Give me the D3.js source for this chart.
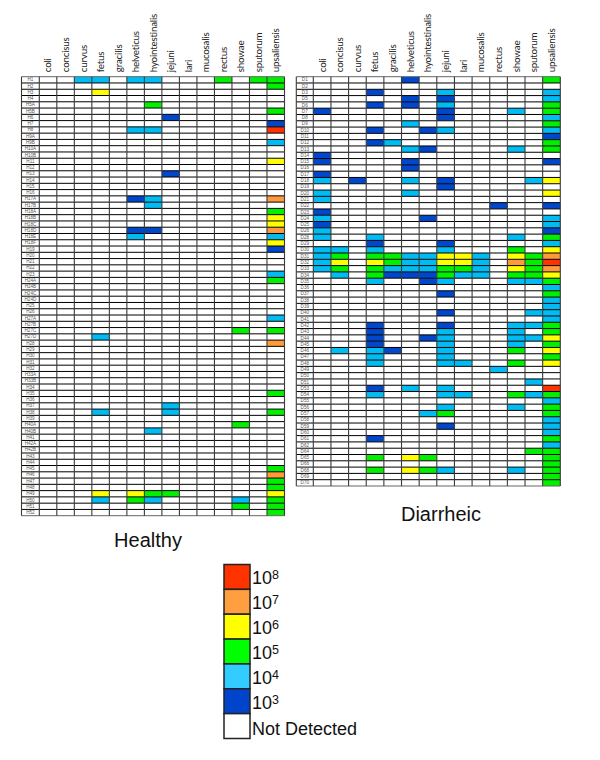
<!DOCTYPE html>
<html>
<head>
<meta charset="utf-8">
<script src="https://cdn.jsdelivr.net/npm/d3@7"></script>
<style>
  html, body { margin: 0; padding: 0; background: #fff; }
  svg { display: block; }
  .species text { font-family: Lato, sans-serif; font-size: 9.8px; letter-spacing: -0.22px; fill: #222; }
  .ids text { font-family: "Liberation Sans", sans-serif; font-size: 4.6px; fill: #555; }
  .title, .legend text { font-family: "Liberation Sans", sans-serif; fill: #111; }
</style>
</head>
<body>
<svg id="chart" width="600" height="760"></svg>
<script>
const species = ["coli", "concisus", "curvus", "fetus", "gracilis", "helveticus", "hyointestinalis",
  "jejuni", "lari", "mucosalis", "rectus", "showae", "sputorum", "upsaliensis"];

const healthyIds = ["H1", "H2", "H3", "H4", "H5A", "H5B", "H6", "H7", "H8", "H9A", "H9B", "H10A", "H10B", "H11",
  "H12", "H13", "H14", "H15", "H16", "H17A", "H17B", "H18A", "H18B", "H18C", "H18D", "H18E", "H18F", "H19",
  "H20", "H21", "H22", "H23", "H24A", "H24B", "H24C", "H24D", "H25", "H26", "H27A", "H27B", "H27C", "H27D",
  "H28", "H29", "H30", "H31", "H32", "H33A", "H33B", "H34", "H35", "H36", "H37", "H38", "H39", "H40A", "H40B",
  "H41", "H42A", "H42B", "H43", "H44", "H45", "H46", "H47", "H48", "H49", "H50", "H51", "H52"];

const diarrheicIds = ["D1", "D2", "D3", "D5", "D6", "D7", "D8", "D9", "D10", "D11", "D12", "D13", "D14", "D15",
  "D16", "D17", "D18", "D19", "D20", "D21", "D22", "D23", "D24", "D25", "D26", "D28", "D29", "D30", "D31", "D32",
  "D33", "D34", "D35", "D36", "D37", "D38", "D39", "D40", "D41", "D42", "D43", "D44", "D45", "D46", "D47", "D48",
  "D49", "D50", "D51", "D53", "D54", "D55", "D56", "D57", "D58", "D59", "D60", "D61", "D62", "D64", "D65", "D66",
  "D68", "D69", "D70"];

// detections: sample -> [species, log10 copies]
const healthyHits = [
  ["H1", "curvus", 4], ["H1", "fetus", 4], ["H1", "helveticus", 4], ["H1", "hyointestinalis", 4],
  ["H1", "rectus", 5], ["H1", "sputorum", 5], ["H1", "upsaliensis", 5],
  ["H2", "upsaliensis", 5], ["H3", "fetus", 6], ["H5A", "hyointestinalis", 5], ["H5B", "upsaliensis", 5],
  ["H6", "jejuni", 3], ["H7", "upsaliensis", 3],
  ["H8", "helveticus", 4], ["H8", "hyointestinalis", 4], ["H8", "upsaliensis", 8],
  ["H9B", "upsaliensis", 4], ["H11", "upsaliensis", 6], ["H13", "jejuni", 3],
  ["H17A", "helveticus", 3], ["H17A", "hyointestinalis", 4], ["H17A", "upsaliensis", 7],
  ["H17B", "hyointestinalis", 4], ["H18A", "upsaliensis", 5], ["H18B", "upsaliensis", 6], ["H18C", "upsaliensis", 6],
  ["H18D", "helveticus", 3], ["H18D", "hyointestinalis", 3], ["H18D", "upsaliensis", 7],
  ["H18E", "helveticus", 4], ["H18E", "upsaliensis", 4], ["H18F", "upsaliensis", 6], ["H19", "upsaliensis", 3],
  ["H23", "upsaliensis", 4], ["H24A", "upsaliensis", 5], ["H27A", "upsaliensis", 4],
  ["H27C", "showae", 5], ["H27C", "upsaliensis", 5], ["H27D", "fetus", 4], ["H28", "upsaliensis", 7],
  ["H35", "upsaliensis", 5], ["H37", "jejuni", 4], ["H38", "fetus", 4], ["H38", "jejuni", 4], ["H38", "upsaliensis", 5],
  ["H40A", "showae", 5], ["H40B", "hyointestinalis", 4],
  ["H45", "upsaliensis", 5], ["H46", "upsaliensis", 7], ["H47", "upsaliensis", 5], ["H48", "upsaliensis", 5],
  ["H49", "fetus", 6], ["H49", "helveticus", 6], ["H49", "hyointestinalis", 5], ["H49", "jejuni", 5], ["H49", "upsaliensis", 6],
  ["H50", "fetus", 4], ["H50", "helveticus", 5], ["H50", "hyointestinalis", 4], ["H50", "showae", 4], ["H50", "upsaliensis", 5],
  ["H51", "showae", 5], ["H51", "upsaliensis", 5], ["H52", "upsaliensis", 5]
];

const diarrheicHits = [
  ["D1", "helveticus", 3], ["D1", "upsaliensis", 5],
  ["D3", "fetus", 3], ["D3", "jejuni", 4], ["D3", "upsaliensis", 4],
  ["D5", "helveticus", 3], ["D5", "jejuni", 3], ["D5", "upsaliensis", 4],
  ["D6", "fetus", 3], ["D6", "helveticus", 3], ["D6", "jejuni", 4], ["D6", "upsaliensis", 5],
  ["D7", "coli", 3], ["D7", "jejuni", 3], ["D7", "showae", 4], ["D7", "upsaliensis", 5],
  ["D8", "jejuni", 3], ["D8", "upsaliensis", 4], ["D9", "helveticus", 4], ["D9", "upsaliensis", 5],
  ["D10", "fetus", 3], ["D10", "hyointestinalis", 3], ["D10", "jejuni", 4], ["D10", "upsaliensis", 4],
  ["D11", "upsaliensis", 3], ["D12", "fetus", 3], ["D12", "gracilis", 4], ["D12", "upsaliensis", 5],
  ["D13", "helveticus", 4], ["D13", "hyointestinalis", 3], ["D13", "showae", 4], ["D13", "upsaliensis", 5],
  ["D14", "coli", 3], ["D15", "coli", 3], ["D15", "helveticus", 3], ["D15", "upsaliensis", 3],
  ["D16", "helveticus", 3], ["D17", "coli", 3],
  ["D18", "coli", 4], ["D18", "curvus", 3], ["D18", "helveticus", 4], ["D18", "jejuni", 3], ["D18", "sputorum", 4], ["D18", "upsaliensis", 6],
  ["D19", "jejuni", 3], ["D20", "coli", 4], ["D20", "helveticus", 4], ["D20", "upsaliensis", 6],
  ["D21", "coli", 4], ["D22", "rectus", 3], ["D22", "upsaliensis", 3], ["D23", "coli", 3],
  ["D24", "coli", 4], ["D24", "hyointestinalis", 3], ["D24", "upsaliensis", 4],
  ["D25", "coli", 3], ["D25", "upsaliensis", 4], ["D26", "coli", 4], ["D26", "upsaliensis", 3],
  ["D28", "coli", 4], ["D28", "fetus", 4], ["D28", "showae", 4], ["D28", "upsaliensis", 5],
  ["D29", "fetus", 3], ["D29", "jejuni", 3], ["D29", "upsaliensis", 4],
  ["D30", "coli", 4], ["D30", "concisus", 4], ["D30", "fetus", 4], ["D30", "jejuni", 4], ["D30", "showae", 5], ["D30", "upsaliensis", 6],
  ["D31", "coli", 4], ["D31", "concisus", 5], ["D31", "fetus", 5], ["D31", "gracilis", 5], ["D31", "helveticus", 4], ["D31", "hyointestinalis", 4],
  ["D31", "jejuni", 6], ["D31", "lari", 6], ["D31", "mucosalis", 4], ["D31", "showae", 6], ["D31", "sputorum", 5], ["D31", "upsaliensis", 7],
  ["D32", "coli", 4], ["D32", "concisus", 6], ["D32", "fetus", 6], ["D32", "gracilis", 5], ["D32", "helveticus", 4], ["D32", "hyointestinalis", 4],
  ["D32", "jejuni", 6], ["D32", "lari", 6], ["D32", "mucosalis", 4], ["D32", "showae", 7], ["D32", "sputorum", 5], ["D32", "upsaliensis", 8],
  ["D33", "coli", 4], ["D33", "concisus", 5], ["D33", "fetus", 5], ["D33", "gracilis", 4], ["D33", "helveticus", 4], ["D33", "hyointestinalis", 4],
  ["D33", "jejuni", 5], ["D33", "lari", 5], ["D33", "mucosalis", 4], ["D33", "showae", 6], ["D33", "sputorum", 5], ["D33", "upsaliensis", 7],
  ["D34", "concisus", 4], ["D34", "fetus", 5], ["D34", "gracilis", 3], ["D34", "helveticus", 3], ["D34", "hyointestinalis", 3],
  ["D34", "jejuni", 5], ["D34", "lari", 4], ["D34", "mucosalis", 4], ["D34", "showae", 5], ["D34", "sputorum", 5], ["D34", "upsaliensis", 6],
  ["D35", "fetus", 4], ["D35", "hyointestinalis", 3], ["D35", "jejuni", 4], ["D35", "showae", 4], ["D35", "sputorum", 4], ["D35", "upsaliensis", 5],
  ["D36", "upsaliensis", 4], ["D37", "jejuni", 3], ["D37", "upsaliensis", 5], ["D38", "upsaliensis", 4], ["D39", "upsaliensis", 4],
  ["D40", "jejuni", 3], ["D40", "sputorum", 4], ["D40", "upsaliensis", 4], ["D41", "upsaliensis", 4],
  ["D42", "fetus", 3], ["D42", "jejuni", 3], ["D42", "showae", 4], ["D42", "sputorum", 4], ["D42", "upsaliensis", 5],
  ["D43", "fetus", 3], ["D43", "jejuni", 4], ["D43", "showae", 4], ["D43", "upsaliensis", 5],
  ["D44", "fetus", 3], ["D44", "hyointestinalis", 3], ["D44", "jejuni", 4], ["D44", "showae", 4], ["D44", "sputorum", 4], ["D44", "upsaliensis", 6],
  ["D45", "fetus", 3], ["D45", "jejuni", 4], ["D45", "showae", 4], ["D45", "upsaliensis", 5],
  ["D46", "concisus", 4], ["D46", "fetus", 4], ["D46", "gracilis", 3], ["D46", "jejuni", 4], ["D46", "showae", 5], ["D46", "upsaliensis", 6],
  ["D47", "fetus", 4], ["D47", "jejuni", 4], ["D47", "upsaliensis", 5],
  ["D48", "fetus", 4], ["D48", "jejuni", 4], ["D48", "lari", 4], ["D48", "showae", 5], ["D48", "upsaliensis", 6],
  ["D49", "rectus", 4], ["D51", "sputorum", 4],
  ["D53", "fetus", 3], ["D53", "helveticus", 4], ["D53", "jejuni", 4], ["D53", "upsaliensis", 8],
  ["D54", "fetus", 4], ["D54", "jejuni", 4], ["D54", "lari", 4], ["D54", "showae", 5], ["D54", "sputorum", 4], ["D54", "upsaliensis", 5],
  ["D55", "upsaliensis", 4], ["D56", "jejuni", 4], ["D56", "showae", 4], ["D56", "upsaliensis", 5],
  ["D57", "hyointestinalis", 4], ["D57", "jejuni", 5], ["D57", "upsaliensis", 5], ["D58", "upsaliensis", 4],
  ["D59", "jejuni", 3], ["D59", "upsaliensis", 4], ["D60", "upsaliensis", 4], ["D61", "fetus", 3], ["D61", "upsaliensis", 5],
  ["D62", "upsaliensis", 4], ["D64", "sputorum", 5], ["D64", "upsaliensis", 5],
  ["D65", "fetus", 5], ["D65", "helveticus", 6], ["D65", "hyointestinalis", 5], ["D65", "upsaliensis", 5], ["D66", "upsaliensis", 5],
  ["D68", "fetus", 5], ["D68", "helveticus", 6], ["D68", "hyointestinalis", 5], ["D68", "jejuni", 4], ["D68", "showae", 4], ["D68", "upsaliensis", 5],
  ["D69", "upsaliensis", 5], ["D70", "upsaliensis", 5]
];

const legendLevels = [8, 7, 6, 5, 4, 3, 0];
const levelColors = ["#ff3300", "#ff9a3c", "#ffff00", "#00f000", "#00bcf2", "#0047cc", "#ffffff"];
const legendColors = ["#ff3300", "#ff9f40", "#ffff00", "#00ff00", "#33ccff", "#0044cc", "#ffffff"];

const color = d3.scaleOrdinal().domain(legendLevels).range(levelColors);
const svg = d3.select("#chart");

function drawPanel(ids, hits, x0, x1, y0, y1, labelWidth) {
  const g = svg.append("g");
  const xScale = d3.scaleBand().domain(species).range([x0 + labelWidth, x1]);
  const yScale = d3.scaleBand().domain(ids).range([y0, y1]);

  const level = new Map(hits.map(d => [d[0] + "|" + d[1], d[2]]));
  const cells = ids.flatMap(id => species.map(sp => ({ id, sp, v: level.get(id + "|" + sp) || 0 })));

  g.selectAll("rect.cell").data(cells).enter().append("rect")
    .attr("class", "cell")
    .attr("x", d => xScale(d.sp))
    .attr("y", d => yScale(d.id))
    .attr("width", xScale.bandwidth())
    .attr("height", yScale.bandwidth())
    .attr("fill", d => color(d.v));

  // horizontal rules, black
  g.selectAll("line.h").data(d3.range(ids.length + 1)).enter().append("line")
    .attr("x1", x0).attr("x2", x1)
    .attr("y1", i => y0 + i * yScale.step())
    .attr("y2", i => y0 + i * yScale.step())
    .attr("stroke", i => (i === 0 || i === ids.length) ? "#666" : "#000")
    .attr("stroke-width", 1);

  // vertical rules, greyer
  const xEdges = [x0, x0 + labelWidth].concat(species.map(s => xScale(s) + xScale.bandwidth()));
  g.selectAll("line.v").data(xEdges).enter().append("line")
    .attr("x1", d => d).attr("x2", d => d)
    .attr("y1", y0).attr("y2", y1)
    .attr("stroke", "#3a3a3a")
    .attr("stroke-width", 1.1);

  const top = g.append("g").attr("class", "species")
    .attr("transform", `translate(0,${y0 - 4.5})`)
    .call(d3.axisTop(xScale).tickSize(0).tickPadding(0));
  top.select(".domain").remove();
  top.selectAll("text")
    .attr("transform", "rotate(-90)")
    .attr("x", 0).attr("y", 0).attr("dy", "0.35em")
    .attr("text-anchor", "start");

  const left = g.append("g").attr("class", "ids")
    .attr("transform", `translate(${x0 + labelWidth / 2},0)`)
    .call(d3.axisLeft(yScale).tickSize(0).tickPadding(0));
  left.select(".domain").remove();
  left.selectAll("text").attr("x", 0).attr("text-anchor", "middle");
}

drawPanel(healthyIds, healthyHits, 21.5, 284.5, 76.7, 515.7, 17.8);
drawPanel(diarrheicIds, diarrheicHits, 296.3, 560.3, 76.7, 486, 17);

svg.append("text").attr("class", "title")
  .attr("x", 148).attr("y", 547).attr("text-anchor", "middle").attr("font-size", 20).text("Healthy");
svg.append("text").attr("class", "title")
  .attr("x", 441).attr("y", 521).attr("text-anchor", "middle").attr("font-size", 20).text("Diarrheic");

// legend
const legendY = d3.scaleBand().domain(legendLevels).range([564.5, 738.5]);
const legendColor = d3.scaleOrdinal().domain(legendLevels).range(legendColors);
const legend = svg.append("g").attr("class", "legend");

legend.selectAll("rect").data(legendLevels).enter().append("rect")
  .attr("x", 224).attr("width", 26)
  .attr("y", d => legendY(d))
  .attr("height", legendY.bandwidth())
  .attr("fill", d => legendColor(d))
  .attr("stroke", "#222")
  .attr("stroke-width", 1.5);

const legendText = legend.selectAll("text").data(legendLevels).enter().append("text")
  .attr("x", 252)
  .attr("y", d => legendY(d) + legendY.bandwidth() - (d === 0 ? 3.5 : 5))
  .attr("font-size", 18);
legendText.filter(d => d === 0).text("Not Detected");
legendText.filter(d => d !== 0).text("10")
  .append("tspan")
  .attr("font-size", 12.5)
  .attr("dy", -5)
  .text(d => d);
</script>
</body>
</html>
